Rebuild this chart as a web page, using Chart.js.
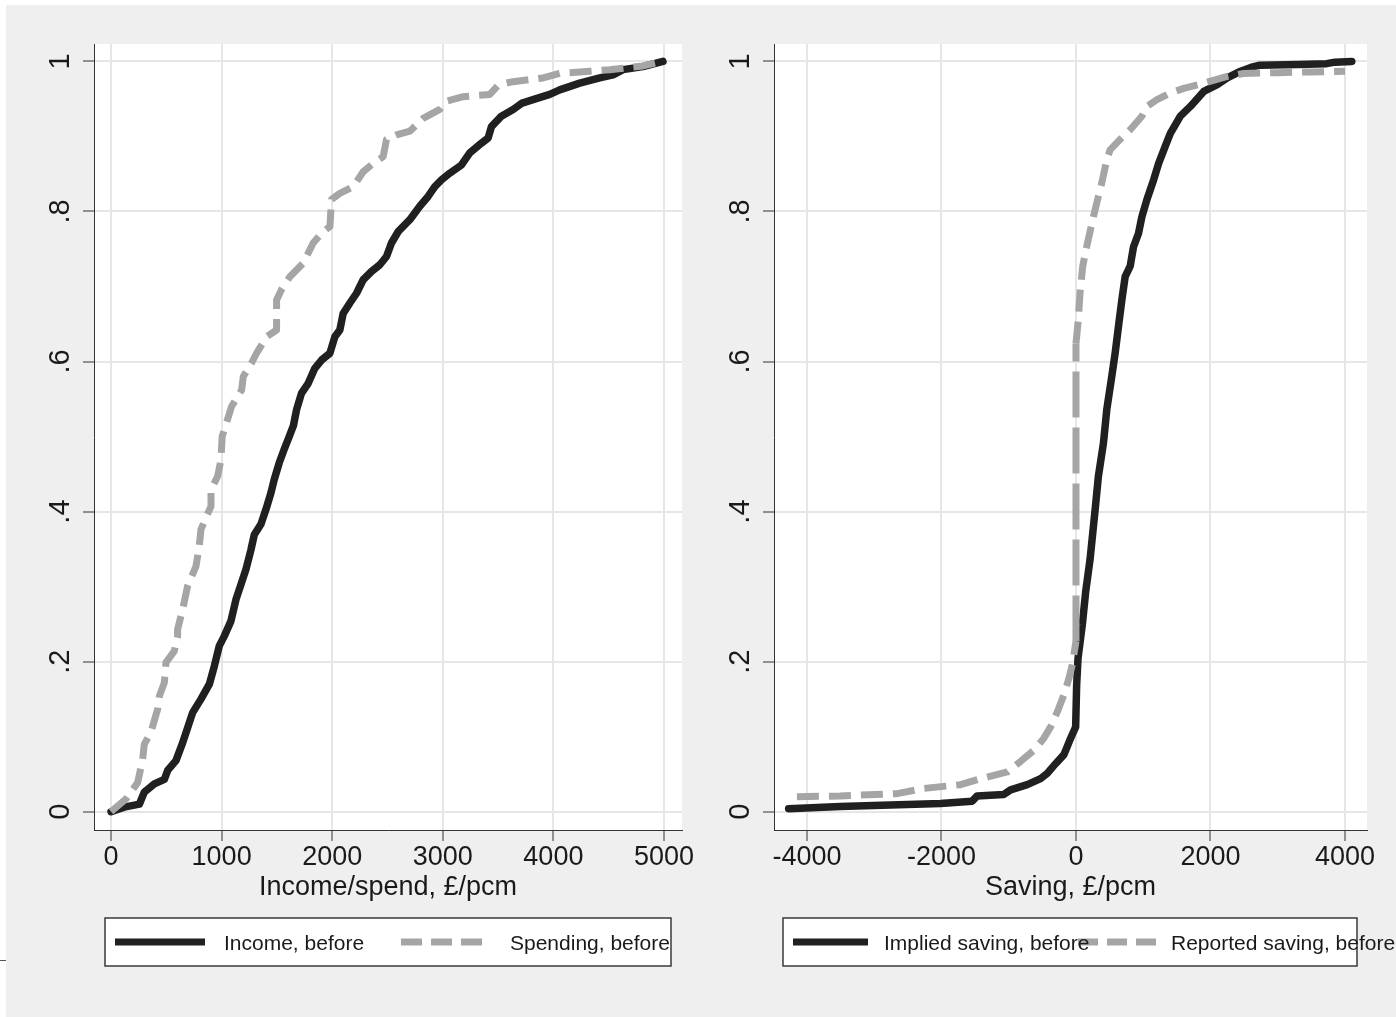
<!DOCTYPE html>
<html>
<head>
<meta charset="utf-8">
<script src="https://cdn.jsdelivr.net/npm/chart.js@4.4.1/dist/chart.umd.min.js"></script>
<style>
  html, body { margin: 0; padding: 0; background: #fff; width: 1396px; height: 1017px; overflow: hidden; }
  #bg { position: absolute; left: 6px; top: 5px; width: 1390px; height: 1012px; background: #efefef; }
  #mark { position: absolute; left: 0; top: 960px; width: 6px; height: 1px; background: #555; }
  canvas { position: absolute; top: 0; }
</style>
</head>
<body>
<div id="bg"></div>
<div id="mark"></div>
<canvas id="left" width="698" height="1017" style="left:0px"></canvas>
<canvas id="right" width="696" height="1017" style="left:700px"></canvas>
<script>
// ---- axis ticks ----
const yTicks = [0, 0.2, 0.4, 0.6, 0.8, 1];
const yTickLabels = ['0', '.2', '.4', '.6', '.8', '1'];
const incomeTicks = [0, 1000, 2000, 3000, 4000, 5000];
const incomeTickLabels = ['0', '1000', '2000', '3000', '4000', '5000'];
const savingTicks = [-4000, -2000, 0, 2000, 4000];
const savingTickLabels = ['-4000', '-2000', '0', '2000', '4000'];

// ---- cumulative distributions (value, share) ----
const incomeX = [0, 120, 256, 301, 392, 482, 512, 587, 648, 693,
  738, 813, 889, 934, 979, 1024, 1084, 1130, 1175, 1220,
  1265, 1295, 1355, 1401, 1446, 1476, 1521, 1566, 1611, 1650,
  1678, 1723, 1783, 1843, 1904, 1979, 2024, 2069, 2099, 2160,
  2220, 2280, 2355, 2431, 2491, 2536, 2596, 2702, 2792, 2867,
  2928, 2988, 3063, 3169, 3244, 3349, 3410, 3440, 3530, 3636,
  3711, 3816, 3967, 4057, 4238, 4419, 4539, 4630, 4810, 4991];
const incomeY = [0, .006, .010, .026, .037, .043, .055, .068, .092, .112,
  .132, .150, .170, .194, .221, .234, .254, .283, .303, .323,
  .349, .369, .383, .403, .425, .443, .465, .483, .500, .515,
  .536, .558, .571, .591, .602, .611, .633, .642, .664, .678,
  .691, .709, .720, .729, .740, .758, .773, .789, .807, .820,
  .833, .842, .851, .862, .878, .891, .898, .913, .927, .936,
  .944, .949, .956, .962, .971, .978, .982, .989, .993, 1];

const spendX = [0, 136, 241, 286, 301, 361, 422, 437, 482, 497,
  572, 602, 602, 648, 693, 768, 798, 813, 858, 904,
  904, 964, 994, 1005, 1090, 1181, 1196, 1271, 1316, 1407,
  1497, 1497, 1542, 1617, 1738, 1828, 1904, 1979, 1994, 2069,
  2190, 2280, 2370, 2461, 2491, 2581, 2702, 2822, 2973, 3033,
  3184, 3425, 3506, 3636, 3907, 4057, 4328, 4509, 4630, 4810,
  4991];
const spendY = [0, .017, .039, .070, .090, .106, .137, .154, .172, .199,
  .214, .234, .243, .270, .301, .327, .354, .376, .392, .407,
  .429, .447, .469, .500, .540, .562, .580, .598, .611, .633,
  .642, .682, .696, .713, .731, .758, .771, .780, .816, .824,
  .833, .853, .864, .873, .896, .902, .907, .924, .936, .947,
  .953, .956, .969, .973, .978, .984, .987, .989, .991, .994,
  1];

const impliedX = [-4273, -3504, -2759, -2015, -1543, -1469, -1072, -973, -725, -526,
  -427, -303, -179, -79, -5, 10, 30, 94, 144, 209,
  284, 333, 408, 458, 532, 582, 632, 682, 731, 806,
  856, 930, 980, 1055, 1154, 1229, 1328, 1403, 1552, 1701,
  1900, 2100, 2249, 2448, 2600, 2734, 3300, 3725, 3850, 4101];
const impliedY = [.004, .007, .009, .011, .014, .021, .023, .029, .036, .044,
  .051, .064, .076, .098, .113, .169, .204, .249, .293, .336,
  .402, .447, .491, .536, .580, .611, .647, .682, .713, .727,
  .753, .771, .793, .816, .842, .864, .887, .904, .927, .940,
  .960, .969, .978, .987, .992, .995, .996, .997, .999, 1];

const reportedX = [-4149, -3504, -2660, -2263, -1717, -1419, -1022, -824, -625, -477,
  -377, -278, -179, -104, -55, 0, 0, 35, 60, 100,
  159, 259, 308, 383, 458, 507, 657, 806, 980, 1055,
  1204, 1403, 1602, 1900, 2249, 2498, 3000, 3500, 4000];
const reportedY = [.020, .021, .024, .031, .036, .044, .053, .067, .082, .098,
  .113, .133, .156, .178, .196, .227, .624, .656, .691, .727,
  .753, .793, .811, .838, .869, .882, .896, .909, .927, .940,
  .949, .958, .964, .971, .980, .984, .985, .986, .987];

// ---- styling ----
const FONT = "'Liberation Sans', Arial, sans-serif";
const INK = '#1a1a1a';
const BLACK = '#202020';
const GREY = '#a5a5a5';
const GRID = '#e6e6e6';
const AXIS = '#333333';

const toPoints = (xs, ys) => xs.map((x, i) => ({ x, y: ys[i] }));

// white plot region
const plotBg = {
  id: 'plotBg',
  beforeDraw(chart) {
    const { ctx, chartArea: a } = chart;
    ctx.save();
    ctx.fillStyle = '#ffffff';
    ctx.fillRect(a.left, a.top, a.right - a.left, a.bottom - a.top);
    ctx.restore();
  }
};

// boxed legend under each panel
const boxLegend = {
  id: 'boxLegend',
  afterDraw(chart, args, opts) {
    if (!opts || !opts.box) return;
    const ctx = chart.ctx;
    const [bx, by, bw, bh] = opts.box;
    ctx.save();
    ctx.fillStyle = '#ffffff';
    ctx.fillRect(bx, by, bw, bh);
    ctx.strokeStyle = '#3a3a3a';
    ctx.lineWidth = 1.5;
    ctx.strokeRect(bx, by, bw, bh);
    const cy = by + bh / 2;
    opts.items.forEach(it => {
      const ds = chart.data.datasets[it.dataset];
      ctx.beginPath();
      ctx.setLineDash(it.dash || []);
      ctx.lineDashOffset = 0;
      ctx.lineCap = 'butt';
      ctx.strokeStyle = ds.borderColor;
      ctx.lineWidth = 7;
      ctx.moveTo(it.from, cy);
      ctx.lineTo(it.to, cy);
      ctx.stroke();
    });
    ctx.setLineDash([]);
    ctx.fillStyle = INK;
    ctx.font = '21px ' + FONT;
    ctx.textBaseline = 'middle';
    ctx.textAlign = 'left';
    opts.items.forEach(it => {
      ctx.fillText(chart.data.datasets[it.dataset].label, it.textX, cy + 2);
    });
    ctx.restore();
  }
};

function panel(id, o) {
  return new Chart(document.getElementById(id), {
    type: 'line',
    data: {
      datasets: [
        {
          label: o.solidLabel,
          data: toPoints(o.solidX, o.solidY),
          borderColor: BLACK, borderWidth: 7.5,
          borderCapStyle: 'round', borderJoinStyle: 'round',
          pointRadius: 0, tension: 0, order: 1
        },
        {
          label: o.dashLabel,
          data: toPoints(o.dashX, o.dashY),
          borderColor: GREY, borderWidth: 7, borderDash: [22, 10],
          borderCapStyle: 'butt', borderJoinStyle: 'round',
          pointRadius: 0, tension: 0, order: 0,
          segment: {
            borderDash: c => (c.p0.parsed.x === c.p1.parsed.x &&
              Math.abs(c.p1.parsed.y - c.p0.parsed.y) > 0.1) ? [46, 10] : undefined
          }
        }
      ]
    },
    options: {
      responsive: false,
      animation: false,
      devicePixelRatio: 1,
      layout: { padding: { top: 44, right: o.padRight, bottom: 0, left: 0 } },
      plugins: {
        legend: { display: false },
        tooltip: { enabled: false },
        boxLegend: o.legend
      },
      scales: {
        x: {
          type: 'linear', position: 'bottom', min: o.xMin, max: o.xMax,
          afterBuildTicks: s => { s.ticks = o.xTicks.map(v => ({ value: v })); },
          afterFit: s => { s.height = 187; },
          ticks: {
            autoSkip: false, maxRotation: 0, padding: 2, color: INK,
            font: { family: FONT, size: 27, lineHeight: 1.05 },
            callback: v => o.xTickLabels[o.xTicks.indexOf(v)]
          },
          grid: { color: GRID, lineWidth: 2, tickLength: 11, tickColor: AXIS, tickWidth: 1 },
          border: { color: AXIS, width: 1 },
          title: {
            display: true, text: o.xTitle, color: INK,
            font: { family: FONT, size: 27 },
            padding: { top: 0, bottom: 113 }
          }
        },
        y: {
          type: 'linear', min: -0.0244, max: 1.0232,
          afterBuildTicks: s => { s.ticks = yTicks.map(v => ({ value: v })); },
          afterFit: s => { s.width = o.yWidth; },
          ticks: {
            autoSkip: false, minRotation: 90, maxRotation: 90, crossAlign: 'center',
            padding: 10, color: INK,
            font: { family: FONT, size: 29 },
            callback: v => yTickLabels[yTicks.indexOf(v)]
          },
          grid: { color: GRID, lineWidth: 2, tickLength: 11, tickColor: AXIS, tickWidth: 1 },
          border: { color: AXIS, width: 1 }
        }
      }
    },
    plugins: [plotBg, boxLegend]
  });
}

panel('left', {
  solidLabel: 'Income, before', solidX: incomeX, solidY: incomeY,
  dashLabel: 'Spending, before', dashX: spendX, dashY: spendY,
  xMin: -154, xMax: 5163, xTicks: incomeTicks, xTickLabels: incomeTickLabels,
  xTitle: 'Income/spend, £/pcm', yWidth: 94, padRight: 16,
  legend: {
    box: [105, 918, 566, 48],
    items: [
      { dataset: 0, from: 115, to: 205, textX: 224 },
      { dataset: 1, from: 401, to: 484, textX: 510, dash: [21, 9] }
    ]
  }
});

panel('right', {
  solidLabel: 'Implied saving, before', solidX: impliedX, solidY: impliedY,
  dashLabel: 'Reported saving, before', dashX: reportedX, dashY: reportedY,
  xMin: -4490, xMax: 4327, xTicks: savingTicks, xTickLabels: savingTickLabels,
  xTitle: 'Saving, £/pcm', yWidth: 74, padRight: 29,
  legend: {
    box: [83, 918, 574, 48],
    items: [
      { dataset: 0, from: 93, to: 168, textX: 184 },
      { dataset: 1, from: 378, to: 456, textX: 471, dash: [20, 9] }
    ]
  }
});
</script>
</body>
</html>
